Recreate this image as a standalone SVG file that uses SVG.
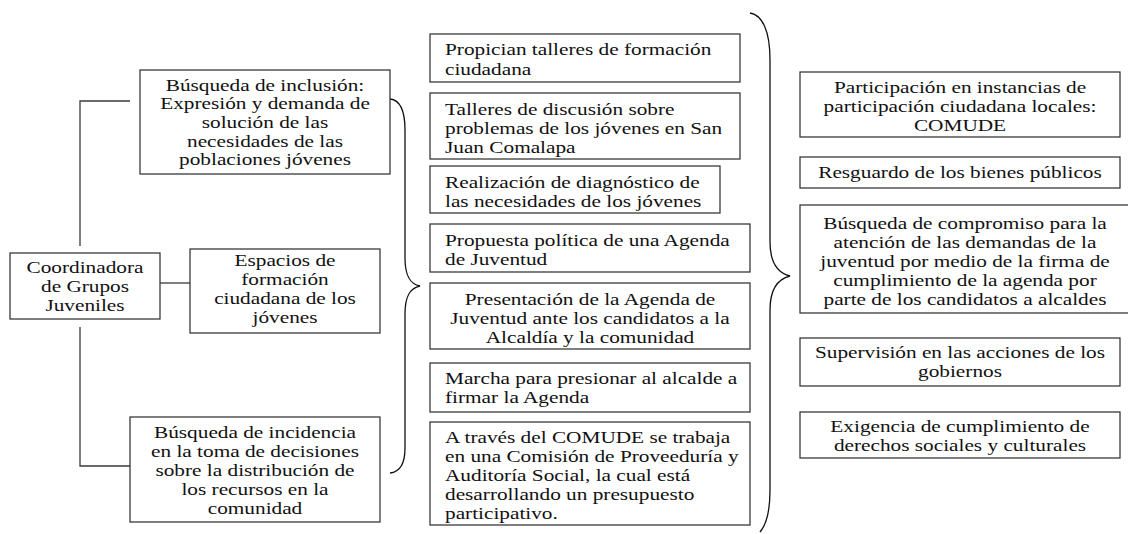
<svg xmlns="http://www.w3.org/2000/svg" width="1128" height="534" viewBox="0 0 1128 534">
<style>
.box{fill:#fff;stroke:#3a3a3a;stroke-width:1.3}
.ln{fill:none;stroke:#3a3a3a;stroke-width:1.3}
.br{fill:none;stroke:#111;stroke-width:1.3}
.t{font-family:"Liberation Serif","Times New Roman",serif;font-size:16.5px;fill:#111}
.c{text-anchor:middle}
</style>
<rect width="1128" height="534" fill="#fff"/>
<g id="connectors">
<polyline class="ln" points="130,101 80,101 80,246"/>
<polyline class="ln" points="80,327 80,466 130,466"/>
<line class="ln" x1="160" y1="283" x2="190" y2="283"/>
<path class="br" d="M390,99 C400,100 405,110 405,130 L405,258 C405,276 410,284 420,286 C410,288 405,296 405,314 L405,448 C405,464 400,472 390,473"/>
<path class="br" d="M750,13 C762,15 770,30 770,60 L770,242 C770,263 778,273 790,276 C778,279 770,289 770,310 L770,490 C770,512 766,525 760,532"/>
</g>
<g id="n1"><rect class="box" x="10" y="253" width="150" height="66"/>
<text class="t c" transform="translate(85,0) scale(1.29,1)"><tspan x="0" y="273">Coordinadora</tspan><tspan x="0" y="292">de Grupos</tspan><tspan x="0" y="311">Juveniles</tspan></text></g>
<g id="n2"><rect class="box" x="140" y="70" width="250" height="104"/>
<text class="t c" transform="translate(265,0) scale(1.29,1)"><tspan x="0" y="91">Búsqueda de inclusión:</tspan><tspan x="0" y="109">Expresión y demanda de</tspan><tspan x="0" y="128">solución de las</tspan><tspan x="0" y="147">necesidades de las</tspan><tspan x="0" y="165">poblaciones jóvenes</tspan></text></g>
<g id="n3"><rect class="box" x="190" y="249" width="190" height="84"/>
<text class="t c" transform="translate(285,0) scale(1.29,1)"><tspan x="0" y="266">Espacios de</tspan><tspan x="0" y="285">formación</tspan><tspan x="0" y="304">ciudadana de los</tspan><tspan x="0" y="323">jóvenes</tspan></text></g>
<g id="n4"><rect class="box" x="130" y="417" width="250" height="105"/>
<text class="t c" transform="translate(255,0) scale(1.29,1)"><tspan x="0" y="438">Búsqueda de incidencia</tspan><tspan x="0" y="457">en la toma de decisiones</tspan><tspan x="0" y="476">sobre la distribución de</tspan><tspan x="0" y="495">los recursos en la</tspan><tspan x="0" y="514">comunidad</tspan></text></g>
<g id="m1"><rect class="box" x="430" y="34" width="310" height="48"/>
<text class="t" transform="translate(445,0) scale(1.29,1)"><tspan x="0" y="55">Propician talleres de formación</tspan><tspan x="0" y="75">ciudadana</tspan></text></g>
<g id="m2"><rect class="box" x="430" y="93" width="310" height="66"/>
<text class="t" transform="translate(445,0) scale(1.29,1)"><tspan x="0" y="115">Talleres de discusión sobre</tspan><tspan x="0" y="134">problemas de los jóvenes en San</tspan><tspan x="0" y="153">Juan Comalapa</tspan></text></g>
<g id="m3"><rect class="box" x="430" y="166" width="290" height="47"/>
<text class="t" transform="translate(445,0) scale(1.29,1)"><tspan x="0" y="188">Realización de diagnóstico de</tspan><tspan x="0" y="207">las necesidades de los jóvenes</tspan></text></g>
<g id="m4"><rect class="box" x="430" y="224" width="320" height="48"/>
<text class="t" transform="translate(445,0) scale(1.29,1)"><tspan x="0" y="246">Propuesta política de una Agenda</tspan><tspan x="0" y="265">de Juventud</tspan></text></g>
<g id="m5"><rect class="box" x="430" y="283" width="320" height="66"/>
<text class="t c" transform="translate(590,0) scale(1.29,1)"><tspan x="0" y="305">Presentación de la Agenda de</tspan><tspan x="0" y="324">Juventud ante los candidatos a la</tspan><tspan x="0" y="343">Alcaldía y la comunidad</tspan></text></g>
<g id="m6"><rect class="box" x="430" y="363" width="320" height="49"/>
<text class="t" transform="translate(445,0) scale(1.29,1)"><tspan x="0" y="384">Marcha para presionar al alcalde a</tspan><tspan x="0" y="403">firmar la Agenda</tspan></text></g>
<g id="m7"><rect class="box" x="430" y="422" width="320" height="103"/>
<text class="t" transform="translate(445,0) scale(1.29,1)"><tspan x="0" y="443">A través del COMUDE se trabaja</tspan><tspan x="0" y="462">en una Comisión de Proveeduría y</tspan><tspan x="0" y="481">Auditoría Social, la cual está</tspan><tspan x="0" y="500">desarrollando un presupuesto</tspan><tspan x="0" y="519">participativo.</tspan></text></g>
<g id="r1"><rect class="box" x="800" y="72" width="320" height="65"/>
<text class="t c" transform="translate(960,0) scale(1.29,1)"><tspan x="0" y="93">Participación en instancias de</tspan><tspan x="0" y="112">participación ciudadana locales:</tspan><tspan x="0" y="131">COMUDE</tspan></text></g>
<g id="r2"><rect class="box" x="800" y="157" width="320" height="31"/>
<text class="t c" transform="translate(960,0) scale(1.29,1)"><tspan x="0" y="178">Resguardo de los bienes públicos</tspan></text></g>
<g id="r3"><rect class="box" x="800" y="205" width="340" height="108"/>
<text class="t c" transform="translate(965,0) scale(1.29,1)"><tspan x="0" y="229">Búsqueda de compromiso para la</tspan><tspan x="0" y="248">atención de las demandas de la</tspan><tspan x="0" y="267">juventud por medio de la firma de</tspan><tspan x="0" y="286">cumplimiento de la agenda por</tspan><tspan x="0" y="305">parte de los candidatos a alcaldes</tspan></text></g>
<g id="r4"><rect class="box" x="800" y="338" width="320" height="48"/>
<text class="t c" transform="translate(960,0) scale(1.29,1)"><tspan x="0" y="358">Supervisión en las acciones de los</tspan><tspan x="0" y="377">gobiernos</tspan></text></g>
<g id="r5"><rect class="box" x="800" y="412" width="320" height="46"/>
<text class="t c" transform="translate(960,0) scale(1.29,1)"><tspan x="0" y="432">Exigencia de cumplimiento de</tspan><tspan x="0" y="451">derechos sociales y culturales</tspan></text></g>
</svg>
